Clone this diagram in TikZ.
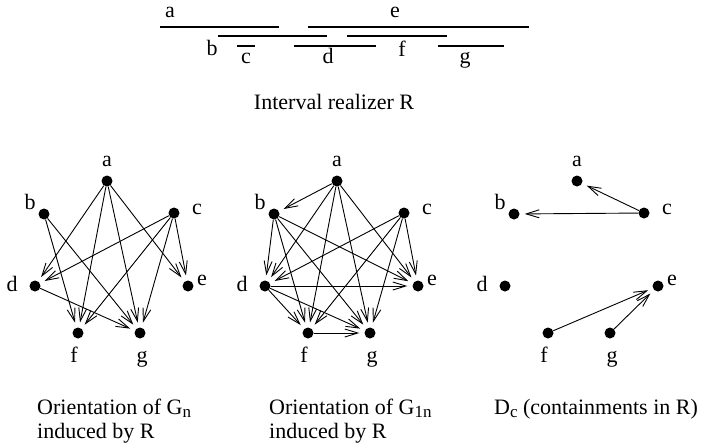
\documentclass[tikz,border=0pt]{standalone}
\usepackage{fontspec}
\setmainfont{Liberation Serif}
\usetikzlibrary{arrows.meta,positioning}
\newcommand{\lowsub}[1]{\raisebox{-0.3ex}{\fontsize{17}{17}\selectfont #1}}

\begin{document}
\begin{tikzpicture}[x=1pt, y=-1pt, every node/.style={font=\fontsize{22}{24}\selectfont}]
  \tikzstyle{vtx}=[circle, fill, inner sep=0pt, minimum size=11pt]
  \tikzstyle{lbl}=[inner sep=0pt, anchor=base]
  \tikzstyle{arc}=[line width=0.9pt, -{Straight Barb[length=13pt,width=8pt]}, shorten >=5pt]
  \tikzstyle{ivl}=[line width=1.1pt]
  \useasboundingbox (0,0) rectangle (707,445);

  % interval realizer
  \draw[ivl] (160,27) -- (279,27);
  \draw[ivl] (308,27) -- (529,27);
  \draw[ivl] (218,36) -- (327,36);
  \draw[ivl] (347,36) -- (447,36);
  \draw[ivl] (237,46) -- (255,46);
  \draw[ivl] (294,46) -- (376,46);
  \draw[ivl] (438,46) -- (504,46);
  \node[lbl] (ia) at (170,17) {a};
  \node[lbl] (ie) at (395,17) {e};
  \node[lbl] (ib) at (212,55) {b};
  \node[lbl] (ic) at (246,63) {c};
  \node[lbl] (id) at (328,63) {d};
  \node[lbl] (if) at (402,56) {f};
  \node[lbl] (ig) at (465,63) {g};
  \node[lbl] (title) at (334,109) {Interval realizer R};

  % the three graphs share one layout
  \foreach \k/\s in {1/0,2/230,3/470} {
    \foreach \n/\x/\y/\lx/\ly in {a/107/181/107/166, b/44/214/30/209, c/174/213/197/214,
        d/35/286/12/291, e/188/286/202/285, f/78/333/74/362, g/140/333/142/362} {
      \node[vtx] (\n\k) at (\x+\s,\y) {};
      \node[lbl] (l\n\k) at (\lx+\s,\ly) {\n};
    }
  }

  % G_n
  \foreach \u/\v in {a/d,a/f,a/g,a/e,b/f,b/g,c/d,c/f,c/g,c/e,d/g}
    \draw[arc] (\u1) -- (\v1);
  % G_1n
  \foreach \u/\v in {a/b,a/d,a/f,a/g,a/e,b/d,b/f,b/g,b/e,c/d,c/f,c/g,c/e,d/e,d/f,d/g,f/g}
    \draw[arc] (\u2) -- (\v2);
  % D_c
  \foreach \u/\v in {c/a,c/b,f/e,g/e}
    \draw[arc] (\u3) -- (\v3);

  \node[lbl, anchor=base west, align=left] (cap1) at (37,438) {Orientation of G\lowsub{n}\\induced by R};
  \node[lbl, anchor=base west, align=left] (cap2) at (269,438) {Orientation of G\lowsub{1n}\\induced by R};
  \node[lbl, anchor=base west] (cap3) at (494,414) {D\lowsub{c} (containments in R)};
\end{tikzpicture}
\end{document}
